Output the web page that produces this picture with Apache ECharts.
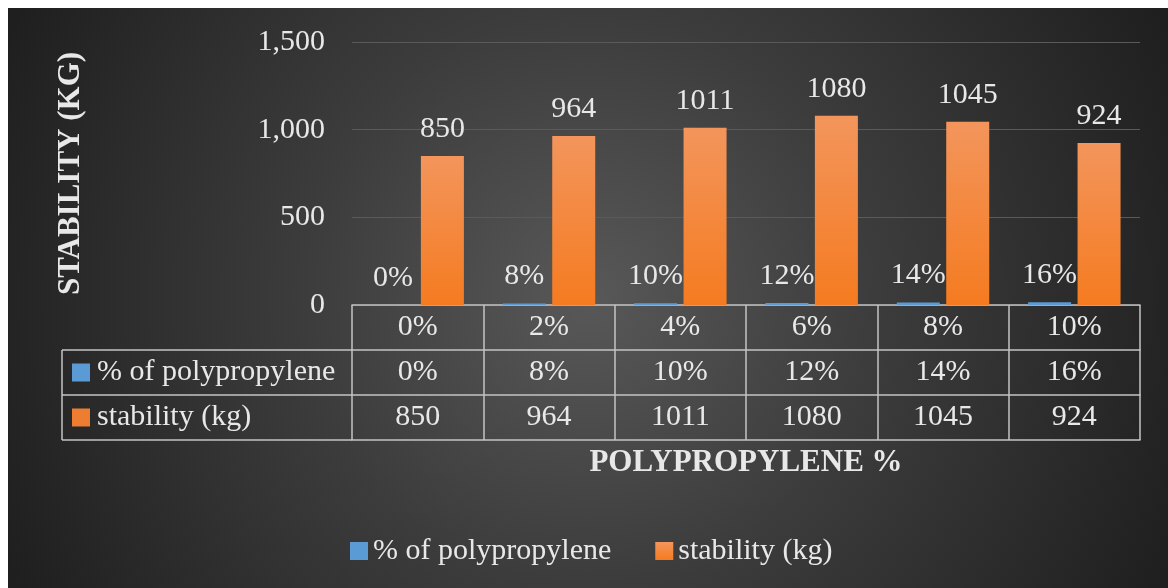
<!DOCTYPE html>
<html>
<head>
<meta charset="utf-8">
<title>Stability vs polypropylene content</title>
<script src="https://cdn.jsdelivr.net/npm/echarts@6/dist/echarts.min.js"></script>
<style>
  html, body { margin: 0; padding: 0; background: #ffffff; }
  #chart { position: absolute; left: 8px; top: 8px; width: 1160px; height: 580px; }
</style>
</head>
<body>
<div id="chart"></div>
<script>
// Polypropylene dosage categories (header row of the data table)
const categories = ['0%', '2%', '4%', '6%', '8%', '10%'];
// Series values
const polypropylenePct = [0, 8, 10, 12, 14, 16];
const stabilityKg = [850, 964, 1011, 1080, 1045, 924];
// Series names
const seriesNames = ['% of polypropylene', 'stability (kg)'];
// Y axis ticks
const yMin = 0, yMax = 1500, yStep = 500;

const FONT = "'Liberation Serif', 'Times New Roman', serif";
const TXT = '#e8e8e8';
const LINE = '#c4c4c4';
const BLUE = '#5b9bd5';
const ORANGE = '#ed7d31';
const FS = 30;
const TITLE_FS = 31;

// layout of the plot/table (chart-local pixels)
const G = { left: 344, right: 28, top: 34, bottom: 283 };
const ROW = 45;

const chart = echarts.init(document.getElementById('chart'), null, { renderer: 'canvas' });

const orangeFill = new echarts.graphic.LinearGradient(0, 0, 0, 1, [
  { offset: 0, color: '#f3955c' },
  { offset: 1, color: '#f57b20' }
]);

function rowAxis(offset, formatter, extra) {
  return Object.assign({
    type: 'category',
    data: categories,
    position: 'bottom',
    offset: offset,
    boundaryGap: true,
    axisLine: { show: true, lineStyle: { color: LINE, width: 1.5 } },
    axisTick: { show: false },
    axisLabel: {
      show: formatter !== null,
      interval: 0,
      margin: ROW / 2,
      verticalAlign: 'middle',
      color: TXT,
      fontFamily: FONT,
      fontSize: FS,
      formatter: formatter || undefined
    },
    splitLine: { show: false }
  }, extra || {});
}

// left header column of the data table
const plotBottom = 580 - G.bottom;
const headLeft = 54;
const headRight = G.left;
const r1 = plotBottom + ROW, r2 = plotBottom + 2 * ROW, r3 = plotBottom + 3 * ROW;
const lineStyle = { stroke: LINE, lineWidth: 1.5 };
const headerGraphics = [
  { type: 'line', shape: { x1: headLeft, y1: r1, x2: headRight, y2: r1 }, style: lineStyle },
  { type: 'line', shape: { x1: headLeft, y1: r2, x2: headRight, y2: r2 }, style: lineStyle },
  { type: 'line', shape: { x1: headLeft, y1: r3, x2: headRight, y2: r3 }, style: lineStyle },
  { type: 'line', shape: { x1: headLeft, y1: r1, x2: headLeft, y2: r3 }, style: lineStyle }
];
[BLUE, ORANGE].forEach(function (c, i) {
  const cy = r1 + ROW * i + ROW / 2;
  headerGraphics.push({ type: 'rect', shape: { x: headLeft + 10, y: cy - 9, width: 18, height: 18 }, style: { fill: c } });
  headerGraphics.push({
    type: 'text', x: headLeft + 35, y: cy,
    style: { text: seriesNames[i], fill: TXT, font: FS + 'px ' + FONT, textVerticalAlign: 'middle' }
  });
});

chart.setOption({
  backgroundColor: {
    type: 'radial', x: 0.5, y: 0.5, r: 1.1,
    colorStops: [
      { offset: 0, color: '#585858' },
      { offset: 0.45, color: '#3c3c3c' },
      { offset: 1, color: '#1f1f1f' }
    ]
  },
  animation: false,
  textStyle: { fontFamily: FONT },
  grid: { left: G.left, right: G.right, top: G.top, bottom: G.bottom, containLabel: false },
  legend: {
    data: seriesNames,
    left: 337,
    top: 523,
    icon: 'rect',
    itemWidth: 18,
    itemHeight: 18,
    itemGap: 44,
    textStyle: { color: TXT, fontFamily: FONT, fontSize: FS }
  },
  xAxis: [
    rowAxis(0, null, {
      axisTick: { show: true, interval: 0, alignWithLabel: false, length: ROW * 3, lineStyle: { color: LINE, width: 1.5 } },
      axisLabel: { show: true, interval: 0, margin: ROW / 2, verticalAlign: 'middle', color: TXT, fontFamily: FONT, fontSize: FS }
    }),
    rowAxis(ROW, function (v, i) { return polypropylenePct[i] + '%'; }),
    rowAxis(ROW * 2, function (v, i) { return String(stabilityKg[i]); }),
    rowAxis(ROW * 3, null, {
      name: 'POLYPROPYLENE %',
      nameLocation: 'middle',
      nameGap: 23,
      nameTextStyle: { color: TXT, fontFamily: FONT, fontSize: TITLE_FS, fontWeight: 'bold', verticalAlign: 'middle' }
    })
  ],
  yAxis: {
    type: 'value',
    min: yMin,
    max: yMax,
    interval: yStep,
    name: 'STABILITY (KG)',
    nameLocation: 'middle',
    nameGap: 266,
    nameRotate: 90,
    nameTextStyle: { color: TXT, fontFamily: FONT, fontSize: TITLE_FS, fontWeight: 'bold' },
    axisLine: { show: false },
    axisTick: { show: false },
    axisLabel: {
      margin: 27,
      color: TXT,
      fontFamily: FONT,
      fontSize: FS,
      formatter: function (v) { return v.toLocaleString('en-US'); }
    },
    splitLine: { lineStyle: { color: '#5a5a5a', width: 1 } }
  },
  series: [
    {
      name: seriesNames[0],
      type: 'bar',
      xAxisIndex: 0,
      data: polypropylenePct,
      barWidth: 43,
      barGap: '15%',
      itemStyle: { color: BLUE },
      label: {
        show: true, position: 'top', distance: 12,
        color: TXT, fontFamily: FONT, fontSize: FS,
        formatter: '{c}%'
      }
    },
    {
      name: seriesNames[1],
      type: 'bar',
      xAxisIndex: 0,
      data: stabilityKg,
      barWidth: 43,
      barGap: '15%',
      itemStyle: { color: orangeFill },
      label: {
        show: true, position: 'top', distance: 12,
        color: TXT, fontFamily: FONT, fontSize: FS,
        formatter: '{c}'
      }
    }
  ],
  graphic: headerGraphics
});
</script>
</body>
</html>
